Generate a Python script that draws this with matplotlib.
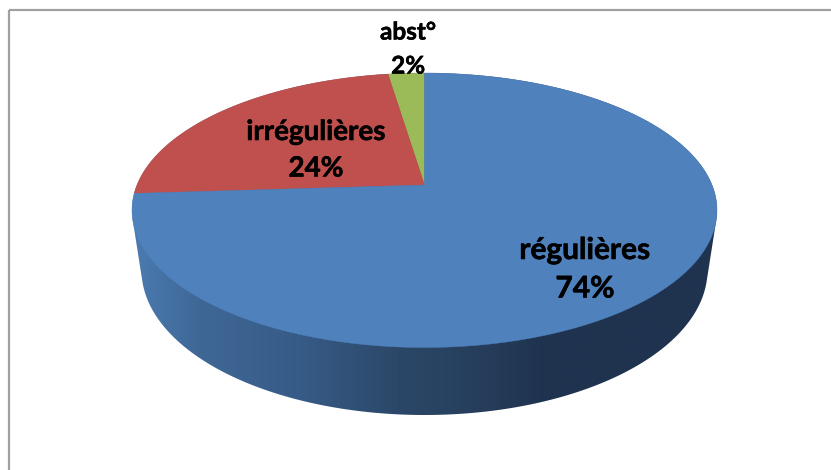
import numpy as np
import matplotlib
matplotlib.use("Agg")
import matplotlib.pyplot as plt
import matplotlib.patheffects as pe
from matplotlib.colors import LinearSegmentedColormap
from matplotlib.patches import Polygon, Rectangle

categories = ["régulières", "irrégulières", "abst°"]
shares = [74.0, 23.6, 2.4]
colors = ["#4f81bd", "#c0504d", "#9bbb59"]
label_xy = [(585, 250, 288.5), (316, 132, 168.5), (408, 32, 66)]
label_sizes = [21.5, 20, 17.5]
side_stops = [(132, "#4a7bb0"), (200, "#3f6796"), (300, "#375b87"), (400, "#2b4768"),
              (480, "#263e5c"), (545, "#1f334f"), (717, "#1f334f")]

W, H = 831, 470
fig = plt.figure(figsize=(W / 100, H / 100), dpi=100, facecolor="white")
ax = fig.add_axes([0, 0, 1, 1])
ax.set_xlim(0, W)
ax.set_ylim(H, 0)
ax.axis("off")

# Tilted pie: homography of the unit circle onto the visible top ellipse
cx, apex_y, top_y, bot_y, rx = 424.5, 185.0, 73.0, 347.5, 292.5
up, down = apex_y - top_y, bot_y - apex_y
k = (down - up) / (down + up)
a = up * (1 + k)
b = rx * np.sqrt(1 - k ** 2)


def project(theta):
    x, y = np.sin(theta), np.cos(theta)
    d = 1 + k * y
    return cx + b * x / d, apex_y - a * y / d


t = np.linspace(0, 2 * np.pi, 721)
tx, ty = project(t)
ecx, ecy, erx, ery = cx, 270.0, 283.0, 145.0
bx, by = ecx + erx * np.cos(t), ecy + ery * np.sin(t)


def hull(points):
    pts = sorted(set(map(tuple, points)))
    def half(seq):
        out = []
        for p in seq:
            while len(out) > 1 and ((out[-1][0] - out[-2][0]) * (p[1] - out[-2][1])
                                    - (out[-1][1] - out[-2][1]) * (p[0] - out[-2][0])) <= 0:
                out.pop()
            out.append(p)
        return out[:-1]
    return half(pts) + half(pts[::-1])


outline = hull(np.vstack([np.column_stack([tx, ty]), np.column_stack([bx, by])]))
cmap = LinearSegmentedColormap.from_list(
    "side", [((x - 132) / (717 - 132), c) for x, c in side_stops])
im = ax.imshow(np.linspace(0, 1, 600)[None, :], cmap=cmap, aspect="auto",
               extent=(132, 717, 420, 70), zorder=1)
im.set_clip_path(Polygon(outline, closed=True, transform=ax.transData))
ax.set_xlim(0, W)
ax.set_ylim(H, 0)

# slices run anticlockwise on screen from the top: abst, irrégulières, régulières
start = 0.0
for i in [2, 1, 0]:
    sweep = shares[i] / sum(shares) * 2 * np.pi
    th = np.linspace(-start, -start - sweep, 300)
    px, py = project(th)
    ax.fill(np.r_[cx, px], np.r_[apex_y, py], color=colors[i], lw=0.3, zorder=2)
    start += sweep

# chart frame, running off the right and bottom edges
ax.add_patch(Rectangle((8.5, 10), 900, 600, fill=False, ec="#a0a0a0", lw=1.6, zorder=0))

for name, share, (x, y1, y2), size in zip(categories, shares, label_xy, label_sizes):
    for s, y in ((name, y1), (f"{share:.0f}%", y2)):
        ax.text(x, y, s, ha="center", va="center", fontsize=size, fontweight="bold",
                family="Lato", color="black", zorder=5,
                path_effects=[pe.withStroke(linewidth=0.4, foreground="black")])

fig.savefig("out.png", dpi=100)
